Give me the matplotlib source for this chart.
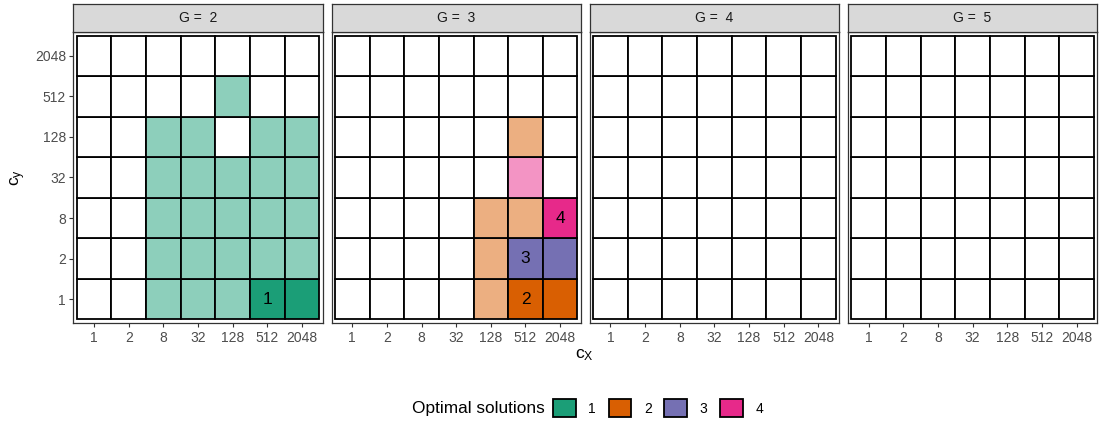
import matplotlib
matplotlib.use("Agg")
import matplotlib.pyplot as plt
from matplotlib.patches import Rectangle, Patch

plt.rcParams['font.family'] = 'Liberation Sans'
plt.rcParams['mathtext.fontset'] = 'custom'
plt.rcParams['mathtext.rm'] = 'Liberation Sans'
plt.rcParams['mathtext.it'] = 'Liberation Sans'

# levels of the two cost parameters
levels = ['1', '2', '8', '32', '128', '512', '2048']
groups = [2, 3, 4, 5]

# solution id per cell, and whether it is one of the optimal cells
cell_G = [2, 2, 2, 2, 2,
          2, 2, 2, 2, 2,
          2, 2, 2, 2, 2,
          2, 2, 2, 2, 2,
          2, 2, 2, 2,
          2,
          3, 3, 3,
          3, 3, 3,
          3, 3, 3,
          3,
          3]
cell_cx = ['8', '32', '128', '512', '2048',
           '8', '32', '128', '512', '2048',
           '8', '32', '128', '512', '2048',
           '8', '32', '128', '512', '2048',
           '8', '32', '512', '2048',
           '128',
           '128', '512', '2048',
           '128', '512', '2048',
           '128', '512', '2048',
           '512',
           '512']
cell_cy = ['1', '1', '1', '1', '1',
           '2', '2', '2', '2', '2',
           '8', '8', '8', '8', '8',
           '32', '32', '32', '32', '32',
           '128', '128', '128', '128',
           '512',
           '1', '1', '1',
           '2', '2', '2',
           '8', '8', '8',
           '32',
           '128']
cell_sol = [1, 1, 1, 1, 1,
            1, 1, 1, 1, 1,
            1, 1, 1, 1, 1,
            1, 1, 1, 1, 1,
            1, 1, 1, 1,
            1,
            2, 2, 2,
            2, 3, 3,
            2, 2, 4,
            4,
            2]
cell_opt = [False, False, False, True, True,
            False, False, False, False, False,
            False, False, False, False, False,
            False, False, False, False, False,
            False, False, False, False,
            False,
            False, True, True,
            False, True, True,
            False, False, True,
            False,
            False]

# numbers written inside the tiles
label_G = [2, 3, 3, 3]
label_cx = ['512', '512', '512', '2048']
label_cy = ['1', '1', '2', '8']
label_txt = ['1', '2', '3', '4']

sol_colors = {1: '#1B9E77', 2: '#D95F02', 3: '#7570B3', 4: '#E7298A'}


def lighten(hexcol, a=0.5):
    r, g, b = matplotlib.colors.to_rgb(hexcol)
    return (1 - a + a * r, 1 - a + a * g, 1 - a + a * b)


W, H = 1100, 423
fig = plt.figure(figsize=(W / 100, H / 100), dpi=100)

left0, pw, gap = 73.3, 249.4, 8.8
ptop, pbot = 31.7, 323.3
strip_top = 4.3

for k, g in enumerate(groups):
    x0 = left0 + k * (pw + gap)
    ax = fig.add_axes([x0 / W, 1 - pbot / H, pw / W, (pbot - ptop) / H])
    ax.set_xlim(0.4, 7.6)
    ax.set_ylim(0.4, 7.6)

    filled = {}
    for G, cx, cy, s, o in zip(cell_G, cell_cx, cell_cy, cell_sol, cell_opt):
        if G == g:
            filled[(cx, cy)] = sol_colors[s] if o else lighten(sol_colors[s])
    for i, cx in enumerate(levels):
        for j, cy in enumerate(levels):
            fc = filled.get((cx, cy), 'white')
            ax.add_patch(Rectangle((i + 0.5, j + 0.5), 1, 1, facecolor=fc,
                                   edgecolor='black', linewidth=1.3))
    for G, cx, cy, t in zip(label_G, label_cx, label_cy, label_txt):
        if G == g:
            ax.text(levels.index(cx) + 1, levels.index(cy) + 1, t,
                    ha='center', va='center', fontsize=12.5, color='black')

    ax.set_xticks(range(1, 8))
    ax.set_xticklabels(levels)
    ax.set_yticks(range(1, 8))
    if k == 0:
        ax.set_yticklabels(levels)
    else:
        ax.tick_params(axis='y', left=False, labelleft=False)
    ax.tick_params(colors='#333333', labelcolor='#4D4D4D', labelsize=10,
                   length=3.2, width=0.8, pad=2)
    for sp in ax.spines.values():
        sp.set_color('#333333')
        sp.set_linewidth(0.9)

    # facet strip
    sax = fig.add_axes([x0 / W, 1 - ptop / H, pw / W, (ptop - strip_top) / H])
    sax.set_facecolor('#D9D9D9')
    sax.set_xticks([])
    sax.set_yticks([])
    for sp in sax.spines.values():
        sp.set_color('#333333')
        sp.set_linewidth(0.9)
    sax.text(0.5, 0.5, 'G =  %d' % g, ha='center', va='center',
             fontsize=10, color='#1A1A1A', transform=sax.transAxes)

fig.text(584 / W, 1 - 355 / H, r'$c_X$', ha='center', va='center', fontsize=12.6)
fig.text(18 / W, 1 - 177.5 / H, r'$c_y$', ha='center', va='center',
         fontsize=12.6, rotation=90)

# legend
fig.text(545 / W, 1 - 408 / H, 'Optimal solutions', ha='right', va='center',
         fontsize=12.4)
handles = [Patch(facecolor=sol_colors[s], edgecolor='black', linewidth=1.3)
           for s in [1, 2, 3, 4]]
fig.legend(handles, ['1', '2', '3', '4'], ncol=4, loc='center left',
           bbox_to_anchor=(553 / W, 1 - 408 / H), frameon=False, fontsize=10,
           handlelength=1.65, handleheight=1.65, handletextpad=0.9,
           columnspacing=0.9, borderpad=0, borderaxespad=0)

fig.savefig('out.png', dpi=100)
